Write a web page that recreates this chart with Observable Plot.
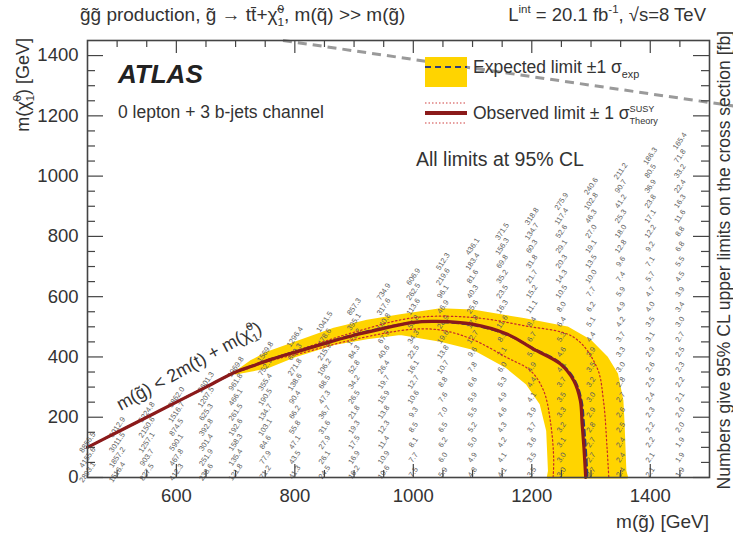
<!DOCTYPE html>
<html><head><meta charset="utf-8">
<script src="https://cdn.jsdelivr.net/npm/d3@7"></script>
<script src="https://cdn.jsdelivr.net/npm/@observablehq/plot@0.6"></script>
<style>
body{margin:0;background:#fff;}
svg text{font-family:"Liberation Sans",Arial,Helvetica,sans-serif;}
</style></head><body><div id="chart"></div>
<script>
// ---- data (GeV) ----
const gluinoColumns = [450,500,550,600,650,700,750,800,850,900,950,1000,1050,1100,1150,1200,1250,1300,1350,1400,1450];
// 95% CL upper limits on cross section [fb], bottom (m_chi=1) to top, rows every 50 GeV
const limitColumns = [
"2893.1 4155.6 8856.5",
"1516.4 1857.2 3011.5 6012.9",
"827.5 903.7 1257.1 2150.6 5224.8",
"412.3 467.8 590.1 874.5 1516.7 3862.0",
"238.6 251.9 301.4 392.8 625.3 1207.5 2601.3",
"121.8 135.4 158.3 192.6 261.5 466.1 961.8 1969.8",
"71.2 77.9 84.6 103.1 134.7 190.5 355.4 752.9 1569.8",
"41.3 43.5 47.1 55.8 66.2 90.4 138.6 271.8 600.3 1296.4",
"24.5 26.1 27.9 31.6 36.7 47.3 68.5 106.2 215.9 478.6 1041.5",
"16.2 16.9 17.5 19.3 21.8 26.5 34.2 52.8 84.3 170.2 395.1 857.3",
"10.6 10.9 11.4 12.3 13.8 15.9 19.7 26.4 40.6 67.9 140.8 317.6 734.9",
"7.5 7.7 8.1 8.5 9.3 10.6 12.7 16.1 22.5 34.3 56.8 113.6 262.5 606.9",
"5.9 6.0 6.2 6.5 7.0 7.6 8.8 10.7 13.8 19.6 28.9 46.9 96.1 219.6 512.3",
"4.8 4.9 5.0 5.2 5.5 5.9 6.6 7.8 9.6 12.7 17.8 25.6 40.3 81.6 183.4 436.1",
"4.1 4.1 4.2 4.3 4.6 4.9 5.3 6.0 7.1 8.9 11.6 16.3 23.5 35.2 69.8 156.3 371.5",
"3.5 3.5 3.6 3.7 3.9 4.1 4.4 4.9 5.6 6.7 8.4 11.1 15.2 21.7 31.8 60.3 134.7 318.8",
"3.0 3.0 3.1 3.2 3.3 3.5 3.7 4.1 4.6 5.3 6.4 8.0 10.5 14.3 20.3 29.1 52.6 117.4 275.9",
"2.7 2.7 2.7 2.8 2.9 3.0 3.2 3.5 3.9 4.4 5.1 6.2 7.7 10.0 13.5 19.1 27.0 46.3 102.8 240.6",
"2.4 2.4 2.4 2.5 2.6 2.7 2.8 3.0 3.3 3.7 4.2 4.9 5.9 7.4 9.6 12.8 18.0 25.3 41.2 90.7 211.2",
"2.1 2.1 2.2 2.2 2.3 2.4 2.5 2.6 2.9 3.1 3.5 4.0 4.7 5.7 7.1 9.2 12.2 17.1 23.8 36.9 80.5 186.3",
"1.9 1.9 1.9 2.0 2.0 2.1 2.2 2.3 2.5 2.7 3.0 3.4 3.9 4.5 5.5 6.8 8.8 11.6 16.3 22.4 33.2 71.8 165.4"
];
const observed = [[450,100],[500,150],[550,200],[600,250],[650,300],[700,350],[730,371],[760,392],[810,421],[860,450],[900,472],[950,495],[1000,515],[1040,518],[1100,509],[1158,476],[1203,426],[1248,377],[1271,321],[1282,255],[1285,177],[1288,100],[1291,0]];
const expected = [[450,100],[500,150],[550,200],[600,250],[650,300],[700,350],[730,372],[760,393],[810,423],[860,452],[900,474],[950,497],[1000,514],[1040,516],[1100,506],[1158,474],[1203,428],[1248,380],[1272,325],[1284,255],[1288,177],[1291,100],[1294,0]];
const theoryUp = [[700,350],[760,394],[810,426],[900,482],[1000,530],[1100,531],[1186,504],[1271,465],[1310,365],[1321,255],[1327,100],[1330,0]];
const theoryDown = [[700,347],[760,388],[810,412],[900,458],[1000,492],[1050,488],[1100,458],[1158,398],[1198,354],[1220,288],[1232,178],[1237,60],[1236,0]];
const bandOuter = [[700,350],[725,385],[753,414],[800,447],[866,494],[922,520],[978,538],[1046,558],[1100,554],[1186,526],[1260,498],[1299,454],[1327,398],[1344,343],[1353,255],[1355,177],[1358,22],[1361,0]];
const bandInner = [[1227,0],[1229,22],[1226,155],[1215,244],[1192,310],[1158,365],[1102,426],[1046,454],[978,476],[922,462],[866,443],[800,402],[753,365],[725,354],[700,345]];
const refLine = [[780,1450],[1540,1233]];
const kinLabel = {mg: 622, mchi: 368};
const xMajor = [600,800,1000,1200,1400];
const yMajor = [0,200,400,600,800,1000,1200,1400];

// ---- derived tables ----
const cells = [];
gluinoColumns.forEach((mg, i) => {
  limitColumns[i].split(" ").forEach((v, j) => cells.push({mg, mchi: j === 0 ? 1 : j * 50, v}));
});
const band = bandOuter.concat(bandInner, [bandOuter[0]]);
const xMinor = d3.range(500, 1500, 50).filter(d => !xMajor.includes(d));
const yMinor = d3.range(50, 1450, 50).filter(d => !yMajor.includes(d));

const W = 733, H = 539, mL = 87, mR = 24, mT = 40, mB = 62;
const fw = W - mL - mR, fh = H - mT - mB;
const ax = "#444";
const P = d => d[0], Q = d => d[1];
const plain = d => String(d);

const chart = Plot.plot({
  width: W, height: H, marginLeft: mL, marginRight: mR, marginTop: mT, marginBottom: mB,
  x: {domain: [450, 1500]},
  y: {domain: [0, 1450]},
  style: {fontFamily: "'Liberation Sans', Arial, sans-serif", fontSize: "18.5px", color: "#333", background: "#fff", overflow: "visible"},
  marks: [
    Plot.line(band, {x: P, y: Q, fill: "#FFD400", stroke: "#FFD400", strokeWidth: 2}),
    Plot.text(cells, {x: "mg", y: "mchi", text: "v", rotate: -56, fontSize: 7.5, fill: "#5e5e5e", dy: -5}),
    Plot.line(theoryUp, {x: P, y: Q, stroke: "#c62828", strokeWidth: 1.2, strokeDasharray: "1.5,2.5", curve: "catmull-rom"}),
    Plot.line(theoryDown, {x: P, y: Q, stroke: "#c62828", strokeWidth: 1.2, strokeDasharray: "1.5,2.5", curve: "catmull-rom"}),
    Plot.line(expected, {x: P, y: Q, stroke: "#2e3a78", strokeWidth: 2.2, strokeDasharray: "6,4", curve: "catmull-rom"}),
    Plot.line(observed, {x: P, y: Q, stroke: "#8b1a1a", strokeWidth: 3.2, curve: "catmull-rom"}),
    Plot.line(refLine, {x: P, y: Q, stroke: "#9a9a9a", strokeWidth: 3, strokeDasharray: "9,6", strokeLinecap: "butt"}),
    Plot.tickX(xMinor, {x: d => d, insetTop: fh - 7, stroke: ax, strokeWidth: 1.2}),
    Plot.tickX(xMajor, {x: d => d, insetTop: fh - 13, stroke: ax, strokeWidth: 1.2}),
    Plot.tickX(xMinor, {x: d => d, insetBottom: fh - 7, stroke: ax, strokeWidth: 1.2}),
    Plot.tickX(xMajor, {x: d => d, insetBottom: fh - 13, stroke: ax, strokeWidth: 1.2}),
    Plot.tickY(yMinor, {y: d => d, insetRight: fw - 8, stroke: ax, strokeWidth: 1.2}),
    Plot.tickY(yMajor, {y: d => d, insetRight: fw - 16, stroke: ax, strokeWidth: 1.2}),
    Plot.tickY(yMinor, {y: d => d, insetLeft: fw - 8, stroke: ax, strokeWidth: 1.2}),
    Plot.tickY(yMajor, {y: d => d, insetLeft: fw - 16, stroke: ax, strokeWidth: 1.2}),
    Plot.frame({stroke: ax, strokeWidth: 1.6}),
    Plot.axisX(xMajor, {tickSize: 0, tickPadding: 11, label: null, tickFormat: plain}),
    Plot.axisY(yMajor, {tickSize: 0, tickPadding: 9, label: null, tickFormat: plain})
  ]
});
document.getElementById("chart").appendChild(chart);

// ---- annotations ----
const svg = d3.select(chart);
const g = svg.append("g").attr("fill", "#333");
function rich(x, y, parts, o = {}) {
  const size = o.size || 16;
  const t = g.append("text").attr("font-size", size).attr("text-anchor", o.anchor || "start");
  if (o.rotate != null) t.attr("transform", `translate(${x},${y}) rotate(${o.rotate})`);
  else t.attr("x", x).attr("y", y);
  if (o.weight) t.attr("font-weight", o.weight);
  if (o.italic) t.attr("font-style", "italic");
  if (o.fill) t.attr("fill", o.fill);
  let shift = 0;
  const ss = o.small || 0.62;
  parts.forEach(p => {
    if (typeof p === "string") {
      t.append("tspan").attr("dy", -shift).text(p); shift = 0;
    } else if (p.sup && p.sub) {
      const up = -0.42 * size, dn = 0.28 * size;
      const a = t.append("tspan").attr("font-size", size * ss).attr("dy", up - shift).text(p.sup);
      const la = a.node().getComputedTextLength();
      const b = t.append("tspan").attr("font-size", size * ss).attr("dx", -la).attr("dy", dn - up).text(p.sub);
      const lb = b.node().getComputedTextLength();
      shift = dn;
      if (la > lb) t.append("tspan").attr("dx", la - lb).text("");
    } else if (p.sup) {
      const up = -0.42 * size;
      t.append("tspan").attr("font-size", size * ss).attr("dy", up - shift).text(p.sup); shift = up;
    } else if (p.sub) {
      const dn = 0.28 * size;
      t.append("tspan").attr("font-size", size * ss).attr("dy", dn - shift).text(p.sub); shift = dn;
    }
  });
  return t;
}
const gt = "g\u0303", chi = "\u03c7\u0303";
rich(80, 21, [`${gt}${gt} production, ${gt} \u2192 tt\u0304+${chi}`, {sup: "0", sub: "1"}, `, m(q\u0303) >> m(${gt})`], {size: 19});
rich(706, 21, ["L", {sup: "int"}, " = 20.1 fb", {sup: "-1"}, ", \u221As=8 TeV"], {size: 18.5, anchor: "end"});
rich(118, 83, ["ATLAS"], {size: 26, weight: "bold", italic: true, fill: "#222"});
rich(118, 118, ["0 lepton + 3 b-jets channel"], {size: 17.5});
rich(416, 166, ["All limits at 95% CL"], {size: 19.5});
// legend
g.append("rect").attr("x", 425).attr("y", 57).attr("width", 42).attr("height", 30).attr("fill", "#FFD400");
g.append("line").attr("x1", 425).attr("x2", 467).attr("y1", 67).attr("y2", 67).attr("stroke", "#2e3a78").attr("stroke-width", 2.2).attr("stroke-dasharray", "6,4");
g.append("line").attr("x1", 425).attr("x2", 467).attr("y1", 113).attr("y2", 113).attr("stroke", "#8b1a1a").attr("stroke-width", 4);
[103, 123].forEach(yy => g.append("line").attr("x1", 425).attr("x2", 467).attr("y1", yy).attr("y2", yy).attr("stroke", "#d04040").attr("stroke-width", 1.2).attr("stroke-dasharray", "1.5,2"));
rich(473, 73, ["Expected limit \u00b11 \u03c3", {sub: "exp"}], {size: 17.5});
rich(473, 119, ["Observed limit \u00b1 1 \u03c3", {sup: "SUSY", sub: "Theory"}], {size: 17.5, small: 0.52});
// axis titles
rich(29, 38, ["m(" + chi, {sup: "0", sub: "1"}, ") [GeV]"], {size: 18, anchor: "end", rotate: -90});
rich(709, 528, [`m(${gt}) [GeV]`], {size: 19, anchor: "end"});
rich(730, 31, ["Numbers give 95% CL upper limits on the cross section [fb]"], {size: 17.5, anchor: "end", rotate: -90});
// kinematic boundary label
const sx = chart.scale("x"), sy = chart.scale("y");
const kx = sx.apply(kinLabel.mg), ky = sy.apply(kinLabel.mchi);
const kt = rich(0, 6, [`m(${gt}) < 2m(t) + m(${chi}`, {sup: "0", sub: "1"}, ")"], {size: 18, anchor: "middle"});
kt.attr("transform", `translate(${kx},${ky}) rotate(-29)`);
</script></body></html>
